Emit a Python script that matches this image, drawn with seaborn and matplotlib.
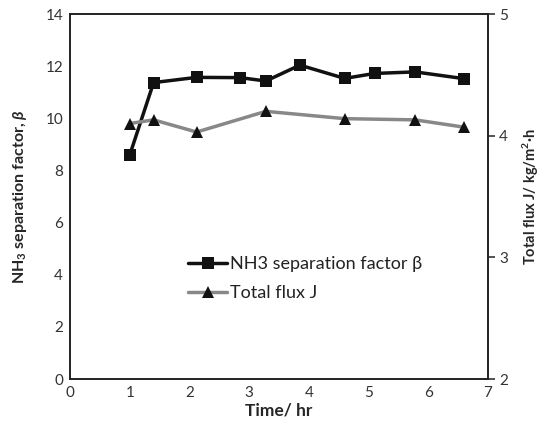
import matplotlib
matplotlib.use('Agg')
import matplotlib.pyplot as plt
import seaborn as sns

# beta (left axis)
time_beta = [1.0, 1.4, 2.12, 2.85, 3.28, 3.85, 4.6, 5.1, 5.78, 6.6]
beta = [8.59, 11.37, 11.57, 11.56, 11.43, 12.04, 11.53, 11.72, 11.78, 11.52]

# total flux J (right axis)
time_flux = [1.0, 1.4, 2.12, 3.28, 4.6, 5.78, 6.6]
flux = [4.10, 4.13, 4.03, 4.20, 4.14, 4.13, 4.07]

sns.set_style('white')
plt.rcParams['font.family'] = ['Lato', 'DejaVu Sans']
plt.rcParams['mathtext.fontset'] = 'custom'
plt.rcParams['mathtext.rm'] = 'Lato:bold'
plt.rcParams['mathtext.it'] = 'Lato:bold:italic'
plt.rcParams['mathtext.bf'] = 'Lato:bold'

fig = plt.figure(figsize=(5.44, 4.34), dpi=100)
ax = fig.add_axes([0.1287, 0.1267, 0.7683, 0.841])
ax2 = ax.twinx()

sns.lineplot(x=time_beta, y=beta, ax=ax, color='#111111', lw=2.5, marker='s',
             markersize=8, markeredgewidth=0, label='NH3 separation factor β', legend=False)
sns.lineplot(x=time_flux, y=flux, ax=ax2, color='#888888', lw=2.5, marker='^',
             markersize=8.5, markerfacecolor='#111111', markeredgewidth=0,
             label='Total flux J', legend=False)

ax.set_xlim(0, 7)
ax.set_ylim(0, 14)
ax2.set_ylim(2, 5)
ax.set_xticks(range(0, 8))
ax.set_yticks(range(0, 15, 2))
ax2.set_yticks([2, 3, 4, 5])

for a in (ax, ax2):
    for s in a.spines.values():
        s.set_color('#222222')
        s.set_linewidth(1.2)
ax.tick_params(axis='both', length=0, labelsize=11, labelcolor='#333333', pad=5)
ax2.tick_params(axis='y', direction='out', length=5, width=1.1, color='#222222',
                labelsize=11, labelcolor='#333333', pad=3)

ax.set_xlabel('Time/ hr', fontsize=12.5, fontweight='bold', labelpad=2)
ax.set_ylabel(r'NH$_3$ separation factor, $\beta$', fontsize=11.5, fontweight='bold', labelpad=12)
ax2.set_ylabel('Total flux J/ kg/m$^2$·h', fontsize=10.5, fontweight='bold', labelpad=9)

h1, l1 = ax.get_legend_handles_labels()
h2, l2 = ax2.get_legend_handles_labels()
ax2.legend(h1 + h2, l1 + l2, loc='center left', bbox_to_anchor=(0.26, 0.275),
           frameon=False, fontsize=13, handlelength=2.2, handletextpad=0.15,
           labelspacing=0.75, borderpad=0, labelcolor='#222222')

fig.savefig('out.png', dpi=100)
